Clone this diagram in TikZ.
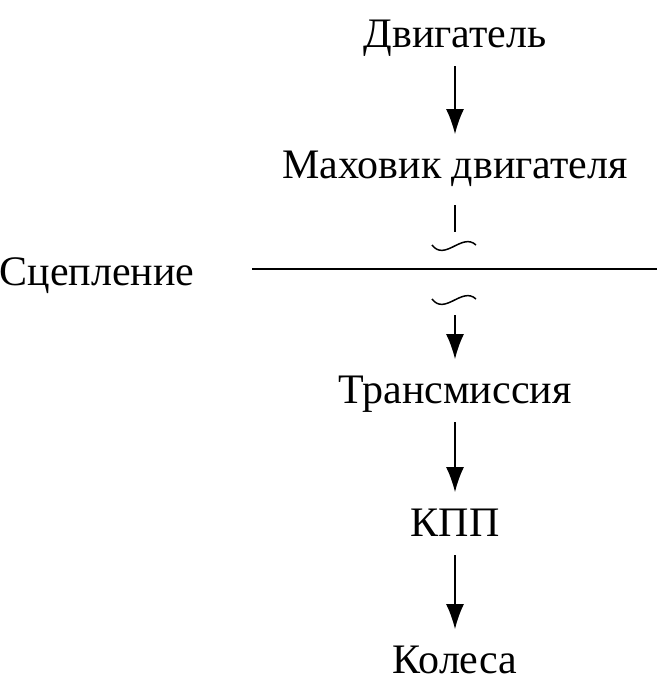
\documentclass[tikz,border=0pt]{standalone}
\usepackage{fontspec}
\setmainfont{Liberation Serif}
\usetikzlibrary{arrows.meta}

\begin{document}
\begin{tikzpicture}[x=0.5pt,y=-0.5pt,>={Latex[length=12.5pt,width=9pt]},
		every node/.style={font=\fontsize{21pt}{25pt}\selectfont, inner sep=0pt,
			text height=15.75pt, text depth=5pt, anchor=base},
		flow/.style={->, line width=0.75pt, shorten <=4.5pt, shorten >=6pt}]
			%%%	Help Lines
%			\draw [thin, help lines] (0,0) grid[step=50] (657,691);
			\useasboundingbox (0,0) rectangle (657,691);
			%%%	Nodi
			\node (engine) at (455,47) {Двигатель};
			\node (flywheel) at (455,178) {Маховик двигателя};
			\node (clutch) at (97,285) {Сцепление};
			\node (trans) at (455,403) {Трансмиссия};
			\node (gearbox) at (455,536) {КПП};
			\node (wheels) at (455,673) {Колеса};
			\coordinate (upw) at (455,232);
			\coordinate (loww) at (455,315);
			\coordinate (la) at (252,269);
			\coordinate (lb) at (657,269);
			%%%	Frecce
			\draw[flow] (engine) -- (flywheel);
			\draw[line width=0.75pt, shorten <=8.5pt] (flywheel) -- (upw);
			\draw[line width=0.75pt] (432,245) .. controls (445,262) and
			(462,232) .. (476,245);
			\draw[line width=1pt] (la) -- (lb);
			\draw[line width=0.75pt] (432,299) .. controls (445,316) and
			(462,286) .. (476,299);
			\draw[flow, shorten <=0pt] (loww) -- (trans);
			\draw[flow] (trans) -- (gearbox);
			\draw[flow] (gearbox) -- (wheels);
		\end{tikzpicture}
\end{document}
